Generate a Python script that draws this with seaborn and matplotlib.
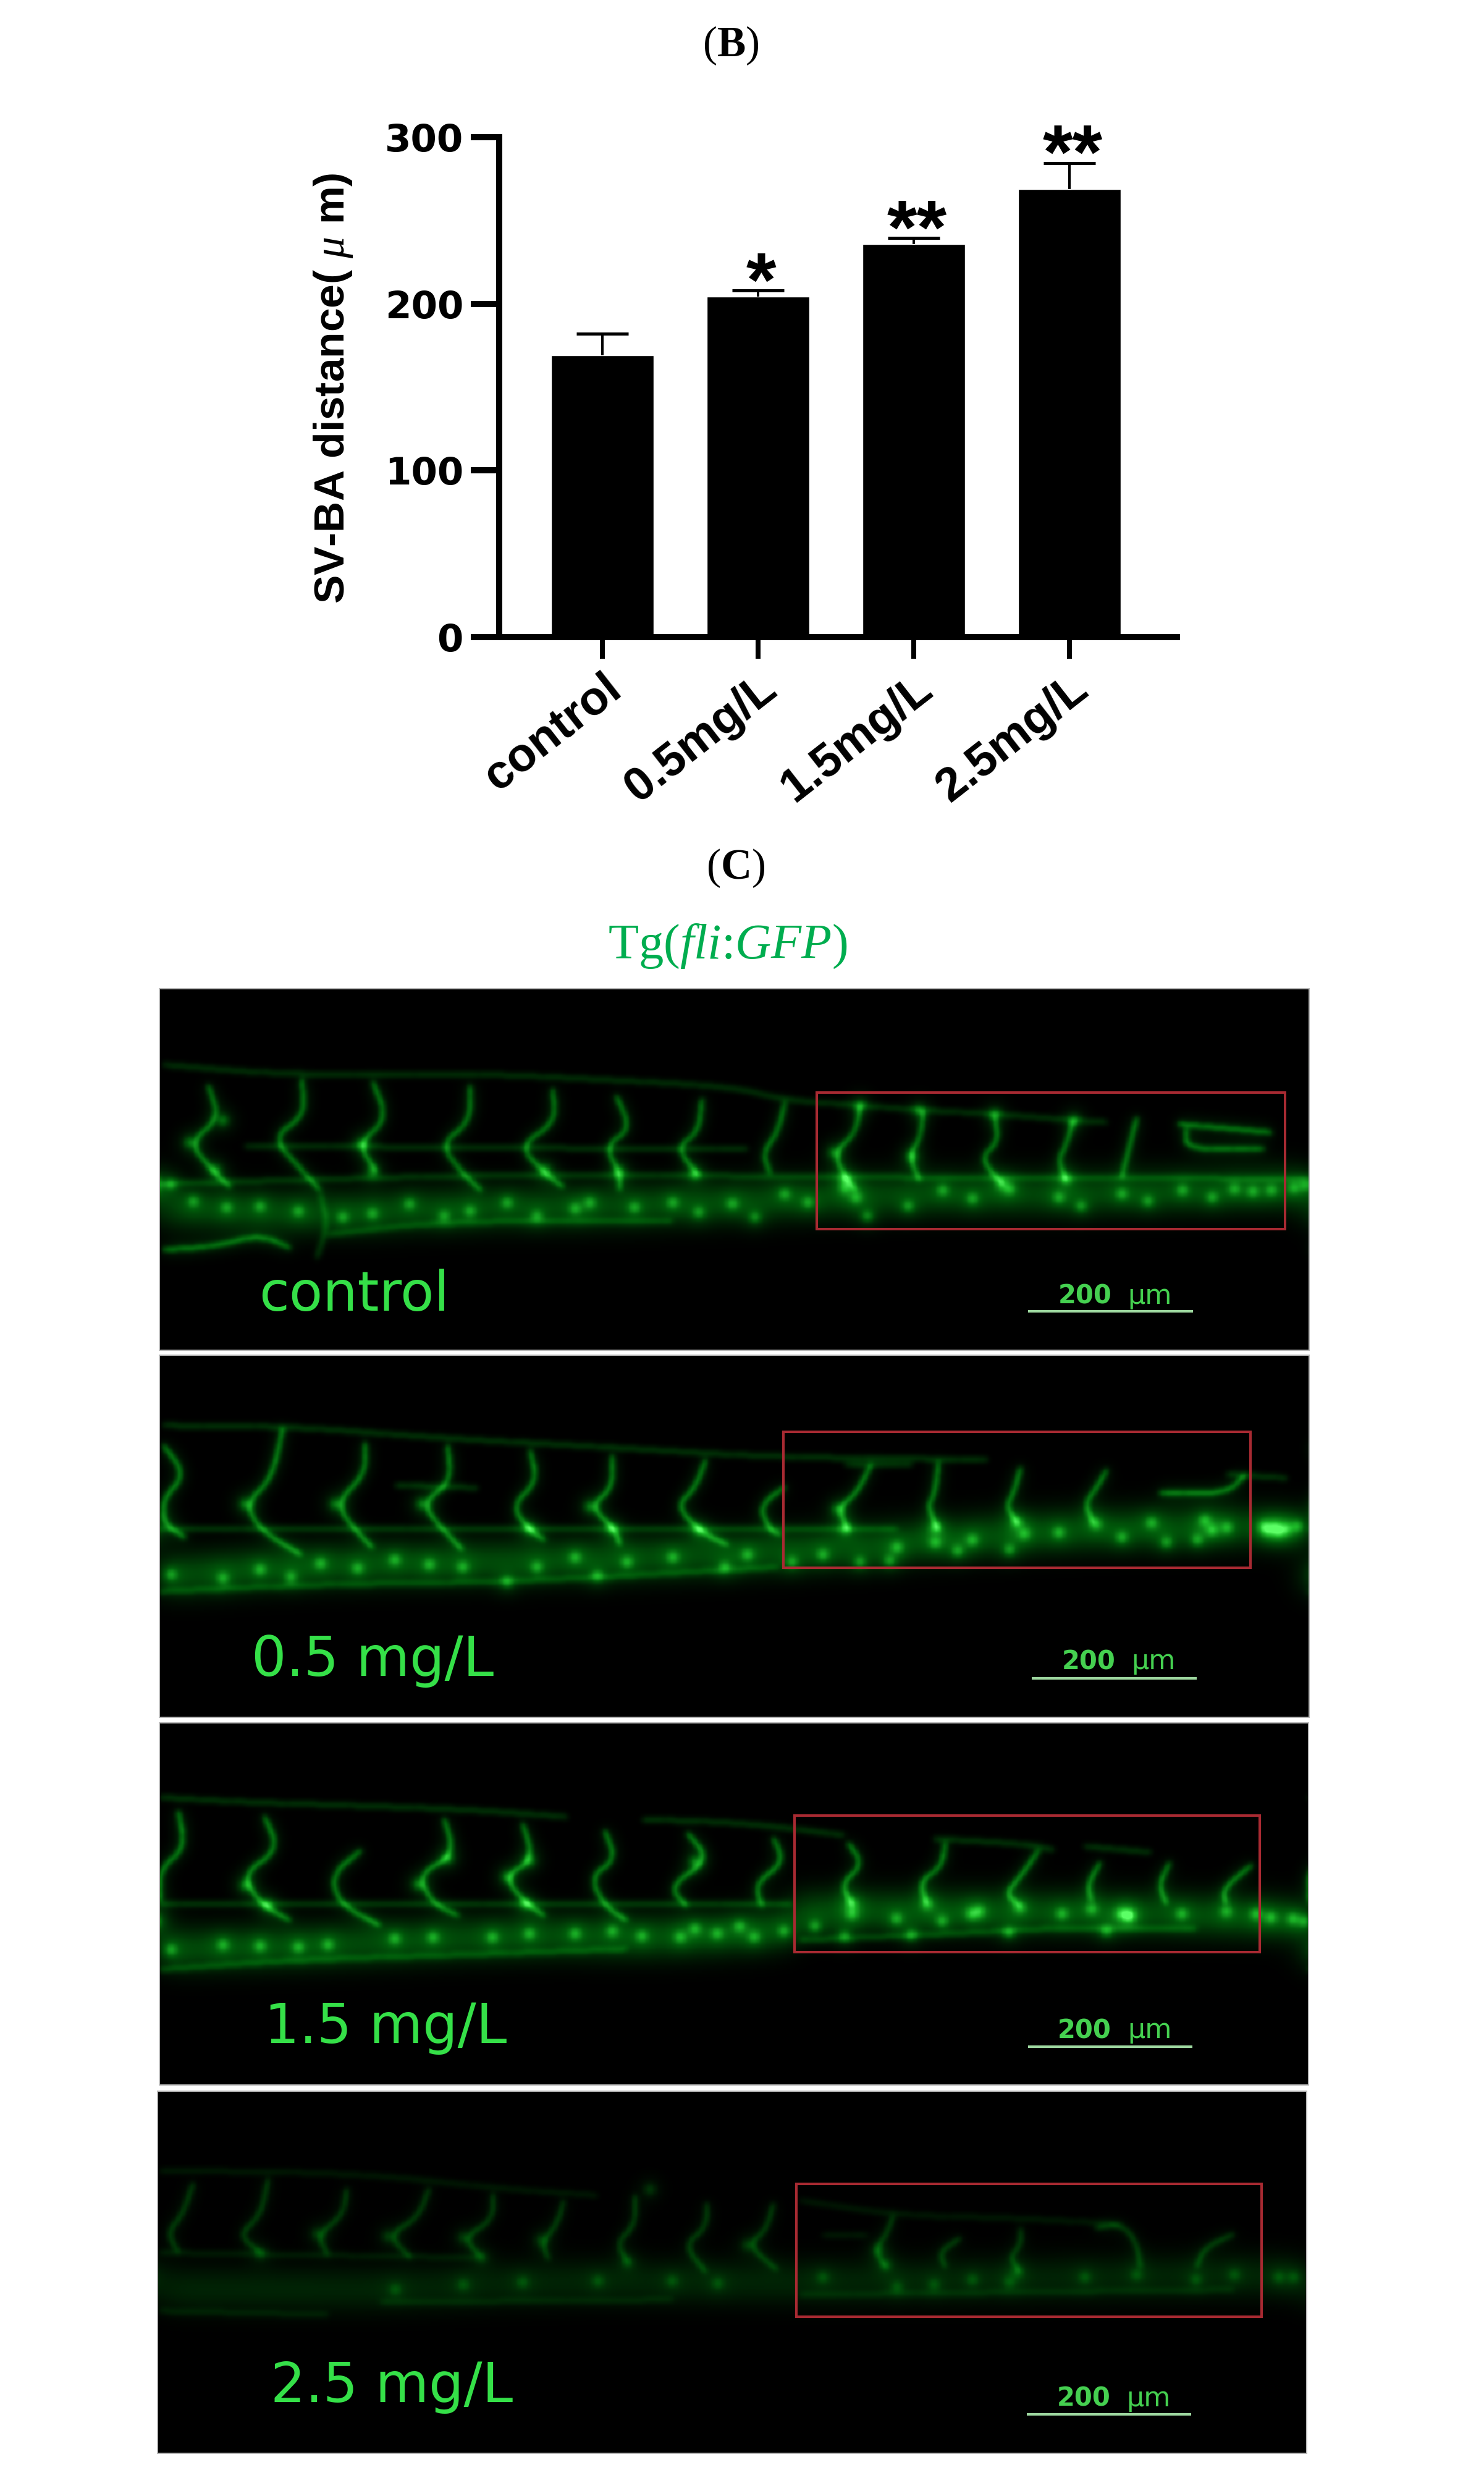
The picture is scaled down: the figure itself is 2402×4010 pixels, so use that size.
import numpy as np
import pandas as pd
import matplotlib
matplotlib.use("Agg")
import matplotlib.pyplot as plt
from matplotlib.colors import LinearSegmentedColormap
from matplotlib.patches import Rectangle
import seaborn as sns

# bar chart values
groups = ["control", "0.5mg/L", "1.5mg/L", "2.5mg/L"]
distance = [169, 204.5, 236, 269]
distance_err = [13, 3.5, 3.5, 15.5]
stars = ["", "*", "**", "**"]
y_ticks = [0, 100, 200, 300]

control_vessels = [
    [(80, 740), (95, 840), (55, 910), (85, 990), (110, 1040)],
    [(205, 720), (210, 830), (165, 895), (205, 990), (230, 1050)],
    [(300, 730), (320, 840), (280, 915), (305, 995)],
    [(430, 740), (430, 850), (390, 915), (420, 1000), (445, 1050)],
    [(540, 750), (545, 850), (495, 920), (530, 1000), (555, 1040)],
    [(625, 770), (645, 870), (610, 920), (630, 1000), (630, 1050)],
    [(740, 780), (735, 880), (705, 925), (735, 1005)],
    [(850, 790), (840, 880), (820, 940), (830, 1000)],
    [(950, 800), (945, 880), (915, 940), (930, 1010), (945, 1050)],
    [(1035, 815), (1030, 900), (1015, 950), (1030, 1020)],
    [(1130, 830), (1135, 910), (1110, 955), (1140, 1030)],
    [(1235, 845), (1225, 920), (1215, 960), (1225, 1020)],
    [(1320, 835), (1310, 920), (1300, 1010)],
    [(20, 1225), (90, 1215), (150, 1180), (190, 1220)],
    [(1375, 855), (1500, 880)],
    [(1385, 870), (1385, 930), (1490, 930)],
]
control_faint = [
    [(20, 680), (200, 712), (430, 705), (620, 725), (780, 745), (850, 785),
     (950, 800), (1035, 815), (1130, 825), (1240, 845), (1280, 850)],
    [(15, 1030), (500, 1000), (900, 1010), (1550, 1015)],
    [(240, 1180), (400, 1140), (700, 1140)],
    [(230, 1060), (240, 1150), (225, 1250)],
    [(130, 920), (800, 930)],
]
control_bands = [
    [(15, 1100), (250, 1120), (420, 1100), (600, 1100), (800, 1080), (1000, 1060),
     (1200, 1060), (1400, 1050), (1550, 1040)],
]
control_dots = [
    (30, 1030), (60, 1080), (105, 1100), (150, 1095), (200, 1110), (260, 1130), (300, 1120),
    (350, 1090), (395, 1125), (430, 1110), (480, 1085), (520, 1125), (570, 1105), (590, 1085),
    (650, 1100), (700, 1085), (735, 1115), (780, 1090), (810, 1130), (850, 1060), (880, 1085),
    (930, 1040), (945, 1070), (960, 1125), (1015, 1095), (1060, 1050), (1100, 1075), (1150, 1045),
    (1215, 1070), (1245, 1095), (1300, 1060), (1335, 1080), (1380, 1050), (1420, 1070),
    (1450, 1045), (1475, 1052), (1500, 1050), (1530, 1040), (1545, 1035), (930, 1015), (1225, 1015),
    (530, 990), (630, 995), (90, 990), (55, 910), (285, 915), (950, 800), (1030, 815), (1130, 825),
    (1235, 845), (100, 845), (730, 1000), (1020, 950), (915, 940), (300, 995), (1140, 1030),
]

low_vessels = [
    [(20, 400), (50, 520), (20, 620), (20, 720), (50, 780)],
    [(180, 330), (165, 540), (130, 640), (150, 750), (205, 850)],
    [(290, 390), (290, 520), (250, 640), (280, 760), (300, 820)],
    [(400, 400), (405, 550), (365, 640), (395, 750), (420, 830)],
    [(510, 420), (520, 550), (485, 650), (510, 750), (530, 790)],
    [(620, 440), (620, 580), (590, 650), (625, 750), (630, 810)],
    [(745, 460), (730, 580), (705, 650), (740, 760), (775, 810)],
    [(850, 570), (815, 650), (830, 750), (845, 770)],
    [(965, 480), (945, 600), (920, 660), (935, 750)],
    [(1055, 470), (1050, 600), (1040, 650), (1055, 750)],
    [(1165, 490), (1155, 600), (1145, 650), (1160, 720)],
    [(1280, 500), (1265, 580), (1250, 640), (1262, 720)],
    [(1465, 520), (1440, 600), (1350, 595)],
]
low_faint = [
    [(20, 320), (200, 325), (380, 370), (620, 410), (830, 450), (1120, 460)],
    [(930, 480), (1020, 480)],
    [(1440, 520), (1520, 535)],
    [(330, 565), (440, 575)],
    [(15, 745), (850, 745), (1000, 745)],
    [(15, 1000), (240, 970), (500, 960), (840, 900)],
]
low_bands = [
    [(15, 940), (220, 890), (500, 880), (840, 840), (1000, 800), (1200, 750), (1472, 730)],
    [(1480, 735), (1550, 745)],
]
low_dots = [
    (30, 930), (100, 945), (150, 910), (190, 940), (230, 885), (280, 905), (330, 870), (375, 890),
    (420, 900), (480, 960), (520, 900), (570, 860), (600, 935), (640, 880), (700, 860), (770, 900),
    (800, 850), (860, 880), (900, 850), (950, 880), (990, 875), (1000, 820), (1050, 800), (1100, 790),
    (1080, 835), (1170, 765), (1150, 830), (1215, 760), (1265, 725), (1300, 780), (1340, 720),
    (1360, 800), (1400, 790), (1420, 750), (1440, 740), (1410, 710), (510, 745), (620, 745),
    (735, 750), (930, 745), (1050, 740), (1160, 720), (1490, 735), (1505, 740), (1520, 745),
    (1535, 735), (1510, 755), (1495, 750), (130, 640), (250, 640), (365, 640), (590, 650), (920, 660),
]

mid_vessels = [
    [(40, 380), (50, 530), (15, 620), (15, 750)],
    [(155, 400), (175, 540), (125, 640), (150, 760), (190, 830)],
    [(285, 540), (245, 640), (255, 760), (310, 850)],
    [(395, 410), (410, 560), (360, 640), (380, 760), (415, 810)],
    [(500, 430), (515, 580), (475, 650), (505, 760), (530, 810)],
    [(610, 460), (625, 580), (590, 650), (610, 770), (640, 830)],
    [(720, 470), (750, 580), (695, 690), (720, 770)],
    [(835, 490), (850, 590), (810, 680), (820, 770)],
    [(935, 510), (955, 600), (925, 680), (940, 760)],
    [(1065, 510), (1060, 610), (1030, 670), (1040, 760)],
    [(1190, 540), (1165, 650), (1145, 720), (1165, 770)],
    [(1272, 590), (1255, 680), (1260, 750)],
    [(1365, 590), (1350, 680), (1360, 760)],
    [(1475, 600), (1435, 700), (1440, 760)],
]
mid_faint = [
    [(15, 325), (130, 345), (240, 355), (430, 375), (560, 405)],
    [(660, 415), (800, 430), (930, 480)],
    [(1050, 495), (1170, 515), (1210, 540)],
    [(1250, 525), (1340, 550)],
    [(15, 760), (860, 760)],
    [(15, 1030), (200, 990), (420, 970), (640, 945)],
    [(870, 910), (1100, 880), (1210, 860), (1400, 860)],
]
mid_bands = [
    [(15, 950), (250, 930), (500, 890), (700, 900), (860, 860)],
    [(860, 790), (1300, 795), (1550, 825)],
]
mid_dots = [
    (30, 950), (100, 930), (150, 935), (200, 940), (240, 930), (330, 905), (380, 900), (460, 900),
    (510, 880), (570, 880), (620, 870), (660, 890), (710, 900), (730, 860), (760, 880), (810, 900),
    (790, 850), (850, 870), (890, 850), (940, 800), (1000, 820), (1060, 830), (1110, 790),
    (1100, 800), (1165, 775), (1220, 800), (1260, 780), (1310, 805), (1380, 800), (1440, 790),
    (1480, 800), (1530, 820), (1500, 815), (1545, 830), (930, 895), (1020, 885), (1150, 875),
    (1280, 870), (130, 685), (360, 680), (480, 650), (730, 590), (160, 765), (505, 760), (940, 760),
    (1040, 760), (1300, 800), (1310, 810), (400, 575), (510, 585),
]

high_vessels = [
    [(60, 380), (45, 510), (25, 580), (40, 660)],
    [(160, 360), (150, 510), (120, 590), (150, 660)],
    [(265, 400), (260, 510), (225, 590), (240, 670)],
    [(375, 400), (360, 520), (320, 590), (350, 680)],
    [(460, 420), (460, 530), (420, 600), (445, 680)],
    [(555, 450), (545, 550), (525, 620), (535, 690)],
    [(650, 430), (650, 550), (625, 620), (640, 700)],
    [(745, 460), (745, 560), (715, 630), (745, 740)],
    [(835, 460), (825, 570), (800, 630), (840, 730)],
    [(995, 510), (985, 590), (970, 650), (985, 720)],
    [(1085, 600), (1055, 660), (1065, 720)],
    [(1165, 560), (1165, 630), (1150, 680), (1165, 740)],
    [(1265, 560), (1300, 545), (1320, 620), (1325, 720)],
    [(1450, 585), (1410, 640), (1400, 720)],
]
high_faint = [
    [(15, 330), (280, 340), (460, 400), (600, 430)],
    [(870, 450), (1000, 510), (1150, 520), (1300, 545)],
    [(900, 590), (960, 590)],
    [(15, 660), (440, 680)],
    [(15, 895), (240, 910)],
    [(310, 860), (700, 850)],
    [(870, 830), (1150, 820), (1450, 810)],
]
high_bands = [
    [(15, 810), (330, 810), (500, 780), (700, 780), (860, 780), (1150, 770), (1487, 750), (1547, 760)],
]
high_dots = [
    (225, 585), (320, 595), (420, 600), (525, 610), (800, 630), (975, 650), (985, 710), (150, 665),
    (445, 680), (640, 700), (1160, 740), (1050, 790), (1150, 780), (700, 775), (500, 780), (330, 810),
    (1320, 750), (1530, 760), (420, 790), (600, 775), (760, 785), (900, 760), (1000, 800), (1100, 770),
    (1250, 760), (1400, 770), (1450, 750), (1510, 758), (670, 405),
]

panels = [
    dict(box=(258, 1600, 2119, 2185), xlim=(15, 1550), ylim=(1522, 455), vessels=control_vessels, faint=control_faint,
         bands=control_bands, dots=control_dots, rect=(893, 762, 1518, 1165), label="control",
         label_at=(148, 1405), scale_at=(1215, 1385), bar=(1175, 1395, 1408), gain=0.85),
    dict(box=(258, 2193, 2119, 2779), xlim=(15, 1550), ylim=(1515, 32), vessels=low_vessels, faint=low_faint,
         bands=low_bands, dots=low_dots, rect=(848, 345, 1472, 902), label="0.5 mg/L",
         label_at=(138, 1345), scale_at=(1220, 1318), bar=(1180, 1400, 1355), gain=0.92),
    dict(box=(258, 2788, 2118, 3374), xlim=(15, 1550), ylim=(1502, 20), vessels=mid_vessels, faint=mid_faint,
         bands=mid_bands, dots=mid_dots, rect=(863, 400, 1485, 958), label="1.5 mg/L",
         label_at=(155, 1330), scale_at=(1215, 1310), bar=(1175, 1395, 1344), gain=0.92),
    dict(box=(255, 3384, 2115, 3970), xlim=(12, 1547), ylim=(1468, 10), vessels=high_vessels, faint=high_faint,
         bands=high_bands, dots=high_dots, rect=(865, 383, 1487, 917), label="2.5 mg/L",
         label_at=(163, 1262), scale_at=(1213, 1278), bar=(1173, 1393, 1312), gain=0.45),
]

W, H = 2402, 4010
PX = 72 / 100  # points per pixel at dpi 100

sns.set_theme(style="white")
plt.rcParams["font.family"] = ["Liberation Sans", "DejaVu Sans"]
plt.rcParams["mathtext.fontset"] = "custom"
plt.rcParams["mathtext.rm"] = "Liberation Serif"
plt.rcParams["mathtext.it"] = "Liberation Serif:italic"
plt.rcParams["mathtext.bf"] = "Liberation Serif:bold"

gfp = LinearSegmentedColormap.from_list(
    "gfp", [(0, "#000000"), (0.35, "#005a0a"), (0.7, "#1cb828"), (1, "#5cff66")])

fig = plt.figure(figsize=(W / 100, H / 100), dpi=100, facecolor="white")


def px_axes(left, top, right, bottom):
    return fig.add_axes([left / W, 1 - bottom / H, (right - left) / W, (bottom - top) / H])


def draw_bars():
    ax = px_axes(808, 222, 1905, 1031)
    ax.patch.set_alpha(0)
    df = pd.DataFrame({"group": groups, "distance": distance})
    sns.barplot(data=df, x="group", y="distance", color="black", saturation=1, width=0.66, ax=ax)
    tops = np.array(distance) + np.array(distance_err)
    pos = np.arange(4)
    ax.vlines(pos, distance, tops, color="black", lw=4 * PX)
    ax.hlines(tops, pos - 0.167, pos + 0.167, color="black", lw=5 * PX)
    ax.set_xlim(-0.663, 3.69)
    ax.set_ylim(0, 300)
    ax.set_xlabel("")
    ax.set_ylabel("")
    ax.set_yticks(y_ticks)
    sns.despine(ax=ax)
    for side in ["left", "bottom"]:
        ax.spines[side].set_linewidth(10 * PX)
        ax.spines[side].set_color("black")
    ax.tick_params(axis="y", length=46 * PX, width=10 * PX, color="black", pad=12 * PX, left=True)
    ax.tick_params(axis="x", length=35 * PX, width=8 * PX, color="black", pad=12 * PX, bottom=True)
    for lab in ax.get_yticklabels():
        lab.set_fontproperties({"family": "DejaVu Sans", "weight": "bold", "size": 44})
        lab.set_color("black")
    ax.set_xticks(range(4))
    ax.set_xticklabels(groups, rotation=38, ha="right", rotation_mode="anchor",
                       fontsize=55, fontweight="bold", color="black")
    for i, mark in enumerate(stars):
        if mark:
            ax.text(i + 0.02, tops[i] - 19, mark, ha="center", va="bottom",
                    fontsize=90, fontweight="bold", color="black")
    fig.text(540 / W, 1 - 628 / H, "SV-BA distance( $\\mathit{\\mu}$ m)", rotation=90, ha="center", va="center",
             fontsize=50, fontweight="bold", family="Liberation Sans", color="black")


def blur(a, sigma):
    fy = np.fft.fftfreq(a.shape[0])[:, None]
    fx = np.fft.rfftfreq(a.shape[1])[None, :]
    kernel = np.exp(-2 * (np.pi * sigma) ** 2 * (fx ** 2 + fy ** 2))
    return np.fft.irfft2(np.fft.rfft2(a) * kernel, s=a.shape)


def smooth(points):
    # corner cutting, so a vessel curves instead of kinking at each read point
    p = np.array(points, dtype=float)
    for _ in range(2):
        q = 0.75 * p[:-1] + 0.25 * p[1:]
        r = 0.25 * p[:-1] + 0.75 * p[1:]
        p = np.vstack([p[:1], np.column_stack([q, r]).reshape(-1, 2), p[-1:]])
    return p


def paint(paths, shape, to_cell):
    ny, nx = shape
    layer = np.zeros(shape)
    for path in paths:
        p = to_cell(smooth(path))
        steps = np.hypot(*np.diff(p, axis=0).T)
        for a, b, n in zip(p[:-1], p[1:], steps):
            count = max(int(n * 2), 1)
            t = (np.arange(count) + 0.5) / count
            cx = np.clip((a[0] + (b[0] - a[0]) * t).astype(int), 0, nx - 1)
            cy = np.clip((a[1] + (b[1] - a[1]) * t).astype(int), 0, ny - 1)
            np.add.at(layer, (cy, cx), 0.5)
    return layer


def fluorescence(p):
    left, top, right, bottom = p["box"]
    nx, ny = (right - left) // 2, (bottom - top) // 2
    x0, x1 = p["xlim"]
    y1, y0 = p["ylim"]

    def to_cell(pts):
        pts = np.asarray(pts, dtype=float)
        return np.column_stack([(pts[:, 0] - x0) / (x1 - x0) * nx, (pts[:, 1] - y0) / (y1 - y0) * ny])

    shape = (ny, nx)
    sharp = paint(p["vessels"], shape, to_cell)
    faint = paint(p["faint"], shape, to_cell)
    band = paint(p["bands"], shape, to_cell)
    dots = np.zeros(shape)
    c = to_cell(p["dots"])
    np.add.at(dots, (np.clip(c[:, 1].astype(int), 0, ny - 1), np.clip(c[:, 0].astype(int), 0, nx - 1)), 1)

    root2pi = np.sqrt(2 * np.pi)
    img = 0.36 * blur(sharp, 2.2) * 2.2 * root2pi
    img += 0.10 * blur(sharp, 6) * 6 * root2pi
    img += 0.18 * blur(faint, 2.4) * 2.4 * root2pi
    img += 0.30 * blur(band, 13) * 13 * root2pi
    img += 0.30 * blur(dots, 3.5) * 2 * np.pi * 3.5 ** 2
    img += 0.12 * blur(dots, 8) * 2 * np.pi * 8 ** 2
    return np.clip(img * p["gain"], 0, 1)


def draw_panel(p):
    ax = px_axes(*p["box"])
    sns.heatmap(fluorescence(p), cmap=gfp, vmin=0, vmax=1, cbar=False, xticklabels=False,
                yticklabels=False, linewidths=0, ax=ax)
    # overlay in the same units the vessels were read in
    top = px_axes(*p["box"])
    top.patch.set_alpha(0)
    x0, y0, x1, y1 = p["rect"]
    top.add_patch(Rectangle((x0, y0), x1 - x0, y1 - y0, fill=False, edgecolor="#a82a32", lw=4 * PX))
    top.text(*p["label_at"], p["label"], color="#35e048", fontsize=64, family="DejaVu Sans", va="baseline")
    sx, sy = p["scale_at"]
    top.text(sx, sy, "200", color="#45d050", fontsize=30, fontweight="bold", family="DejaVu Sans", va="baseline")
    top.text(sx + 93, sy, "μm", color="#45d050", fontsize=32, family="DejaVu Sans", va="baseline")
    a, b, y = p["bar"]
    top.plot([a, b], [y, y], color="#9ed8a0", lw=4 * PX, solid_capstyle="butt")
    top.set_xlim(*p["xlim"])
    top.set_ylim(*p["ylim"])
    top.set_xticks([])
    top.set_yticks([])
    for s in top.spines.values():
        s.set_visible(True)
        s.set_edgecolor("#b8b8b8")
        s.set_linewidth(2 * PX)


draw_bars()
for panel in panels:
    draw_panel(panel)

fig.text(1183 / W, 1 - 74 / H, "($\\mathbf{B}$)", ha="center", va="center", fontsize=50,
         family="Liberation Serif", color="black")
fig.text(1191 / W, 1 - 1405 / H, "($\\mathbf{C}$)", ha="center", va="center", fontsize=50,
         family="Liberation Serif", color="black")
fig.text(1178 / W, 1 - 1531 / H, "Tg($\\mathit{fli}$:$\\mathit{GFP}$)", ha="center", va="center",
         fontsize=58, family="Liberation Serif", color="#00ad4f")

fig.savefig("out.png", dpi=100, facecolor="white")
